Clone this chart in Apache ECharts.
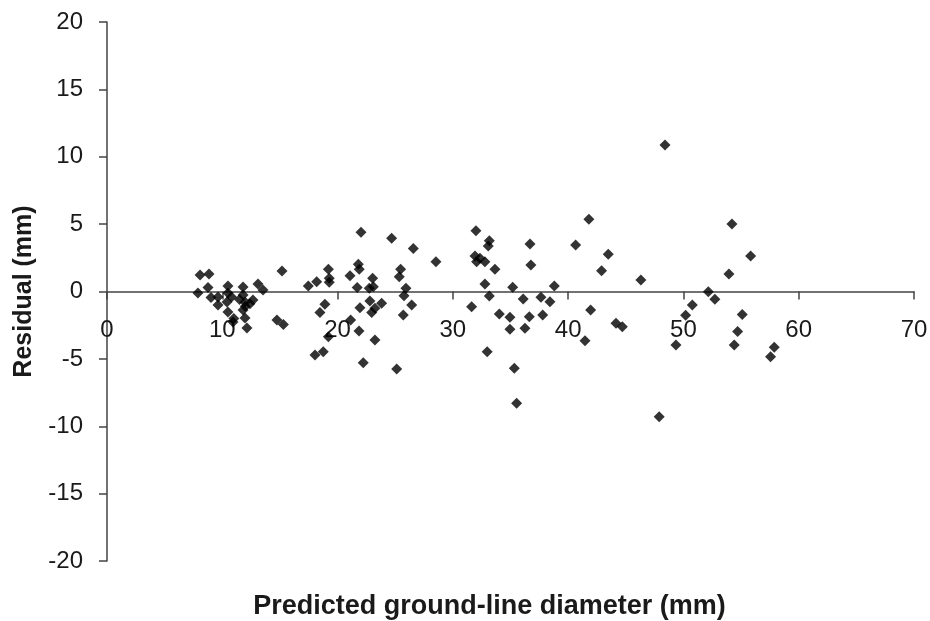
<!DOCTYPE html>
<html>
<head>
<meta charset="utf-8">
<script src="https://cdn.jsdelivr.net/npm/echarts@6/dist/echarts.min.js"></script>
<style>
  html, body { margin: 0; padding: 0; background: #fff; }
  #chart { width: 930px; height: 621px; }
</style>
</head>
<body>
<div id="chart"></div>
<script>
// predicted diameter (mm) and residual (mm)
const predicted = [
  8.07, 8.85, 7.89, 8.76, 9.02, 9.63, 9.63, 10.49, 10.49, 10.41, 10.49, 10.93,
  11.0, 10.8, 11.80, 11.80, 11.97, 11.80, 12.66, 11.97, 12.14, 11.5, 12.0, 12.4,
  13.10, 13.53, 14.74, 15.3, 15.18,
  17.46, 18.19, 19.2, 19.28, 19.28, 18.9, 18.47, 19.2, 18.76, 18.04,
  22.03, 21.8, 21.88, 21.08, 21.7, 21.94, 21.13, 21.86, 22.23,
  23.04, 23.1, 22.75, 22.8, 23.82, 23.24, 22.96, 23.24,
  24.69, 26.57, 25.47, 25.35, 25.93, 25.76, 26.43, 25.7, 25.13,
  28.53, 32.0, 31.92, 32.06, 32.35, 32.78, 33.16, 33.07, 33.65, 32.78, 33.16,
  31.63, 32.98, 34.03, 34.95, 34.95, 35.19, 35.33, 35.53, 36.1, 36.25, 36.63,
  36.69, 36.77, 37.64, 37.79, 38.42, 38.8,
  40.65, 41.95, 41.46, 42.9, 43.48, 41.8, 44.15, 44.7, 46.31, 47.9, 48.4,
  49.35, 50.19, 50.77, 52.16, 52.73, 54.21, 53.95, 55.83, 55.1, 54.7, 54.41,
  57.88, 57.56
];
const residual = [
  1.22, 1.30, -0.11, 0.30, -0.45, -0.41, -1.0, 0.41, -0.11, -0.78, -1.52, -2.26,
  -2.0, -0.40, 0.33, -0.26, -0.78, -1.37, -0.63, -1.97, -2.71, -0.60, -1.10, -0.90,
  0.56, 0.11, -2.12, -2.45, 1.52,
  0.41, 0.73, 1.65, 0.98, 0.68, -0.95, -1.55, -3.35, -4.47, -4.71,
  4.39, 2.02, 1.65, 1.17, 0.30, -1.20, -2.12, -2.93, -5.28,
  0.98, 0.36, 0.24, -0.70, -0.88, -1.25, -1.55, -3.60,
  3.95, 3.20, 1.65, 1.10, 0.24, -0.31, -1.00, -1.75, -5.75,
  2.21, 4.51, 2.64, 2.21, 2.46, 2.21, 3.77, 3.38, 1.65, 0.56, -0.33,
  -1.13, -4.47, -1.67, -1.92, -2.81, 0.31, -5.70, -8.30, -0.56, -2.73, -1.87,
  3.53, 1.97, -0.43, -1.74, -0.76, 0.41,
  3.45, -1.37, -3.65, 1.54, 2.76, 5.36, -2.36, -2.61, 0.85, -9.30, 10.88,
  -3.97, -1.77, -1.00, -0.01, -0.58, 5.01, 1.30, 2.64, -1.70, -2.96, -3.97,
  -4.14, -4.84
];

const points = predicted.map((x, i) => [x, residual[i]]);

const AXIS_COLOR = '#444';
const FONT = 'Liberation Sans, Arial, sans-serif';

const chart = echarts.init(document.getElementById('chart'));

chart.setOption({
  animation: false,
  grid: { left: 107, right: 16, top: 22, bottom: 60, containLabel: false, outerBoundsMode: 'none' },
  xAxis: {
    type: 'value',
    min: 0, max: 70, interval: 10,
    axisLine: { show: true, onZero: true, lineStyle: { color: AXIS_COLOR, width: 1.5 } },
    axisTick: { show: true, length: 8, lineStyle: { color: AXIS_COLOR, width: 1.5 } },
    // v6 keeps labels at the grid edge, so pull them back up under the zero line
    axisLabel: { fontSize: 24, color: '#1a1a1a', fontFamily: FONT, margin: -243 },
    splitLine: { show: false },
    name: 'Predicted ground-line diameter (mm)',
    nameLocation: 'middle',
    nameGap: 32,
    nameTextStyle: {
      fontSize: 27, fontWeight: 'bold', color: '#1a1a1a', fontFamily: FONT,
      padding: [0, 42, 0, 0],
    },
  },
  yAxis: {
    type: 'value',
    min: -20, max: 20, interval: 5,
    axisLine: { show: true, lineStyle: { color: AXIS_COLOR, width: 1.5 } },
    axisTick: { show: true, length: 8, lineStyle: { color: AXIS_COLOR, width: 1.5 } },
    axisLabel: { fontSize: 24, color: '#1a1a1a', fontFamily: FONT, margin: 24 },
    splitLine: { show: false },
    name: 'Residual (mm)',
    nameLocation: 'middle',
    nameGap: 70,
    nameTextStyle: { fontSize: 25, fontWeight: 'bold', color: '#1a1a1a', fontFamily: FONT },
  },
  series: [{
    type: 'scatter',
    symbol: 'diamond',
    symbolSize: 11,
    itemStyle: { color: '#000' },
    data: points,
  }],
});
</script>
</body>
</html>
